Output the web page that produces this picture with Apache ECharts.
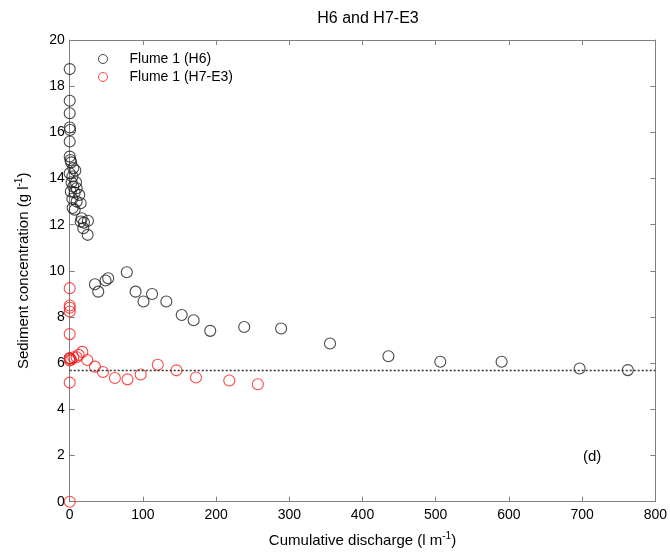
<!DOCTYPE html>
<html>
<head>
<meta charset="utf-8">
<script src="https://cdn.jsdelivr.net/npm/echarts@6/dist/echarts.min.js"></script>
<style>html,body{margin:0;padding:0;background:#fff}#c{width:670px;height:555px}</style>
</head>
<body>
<div id="c"></div>
<script>
const chartTitle = 'H6 and H7-E3';
const panelLabel = '(d)';
const seriesNames = ['Flume 1 (H6)', 'Flume 1 (H7-E3)'];
const xTicks = [0, 100, 200, 300, 400, 500, 600, 700, 800];
const yTicks = [0, 2, 4, 6, 8, 10, 12, 14, 16, 18, 20];
const refLevel = 5.7;

const h6X = [0, 0, 0, 0, 0.5, 0, 0, 1, 2, 4.9, 7.7, 0, 3.7, 2.5, 8.6, 4.9, 9.5, 1.5, 6.8, 13, 3.6, 9.5, 15, 4, 6.8, 16.3, 15, 19.5, 24.9, 18.6, 24.5, 0,
  34.5, 39, 49, 52.6, 78, 90, 100.8, 112.5, 132, 153, 169.3, 192, 238.4, 288.8, 355.6, 435.4, 506.3, 590, 696.6, 762.4];
const h6Y = [18.74, 17.37, 16.83, 16.21, 16.1, 15.6, 14.95, 14.8, 14.7, 14.45, 14.35, 14.23, 14.09, 13.84, 13.84, 13.65, 13.58, 13.44, 13.39, 13.29, 13.12, 13.0, 12.93, 12.72, 12.65, 12.28, 12.14, 12.09, 12.17, 11.85, 11.56, 6.2,
  9.42, 9.10, 9.58, 9.68, 9.94, 9.10, 8.67, 9.0, 8.67, 8.09, 7.86, 7.40, 7.57, 7.5, 6.85, 6.30, 6.06, 6.06, 5.77, 5.70];

const h7X = [0, 0, 0, 0, 0, 0, 0, 0, 0, 2, 5, 9.5, 12.3, 17.2, 24, 34.5, 45.4, 61.7, 79, 97, 120.3, 145.8, 172.5, 218, 257];
const h7Y = [9.25, 8.5, 8.4, 8.24, 7.26, 6.22, 6.12, 5.16, 0, 6.15, 6.26, 6.26, 6.36, 6.49, 6.14, 5.85, 5.62, 5.36, 5.30, 5.51, 5.93, 5.69, 5.38, 5.25, 5.09];

const zip = (xs, ys) => xs.map((x, i) => [x, ys[i]]);
const FONT = 'Liberation Sans';
const axisCol = '#7f7f7f';

const baseAxis = {
  axisLine: { show: true, onZero: false, lineStyle: { color: axisCol, width: 1 } },
  axisTick: { show: true, inside: true, length: 5, lineStyle: { color: axisCol } },
  splitLine: { show: false }
};

const chart = echarts.init(document.getElementById('c'), null, { renderer: 'canvas' });
chart.setOption({
  animation: false,
  backgroundColor: '#fff',
  title: {
    text: chartTitle, left: 363, top: 6, textAlign: 'center',
    textStyle: { fontFamily: FONT, fontSize: 16, fontWeight: 'normal', color: '#000' }
  },
  graphic: [{
    type: 'text', left: 583, top: 449,
    style: { text: panelLabel, fontFamily: FONT, fontSize: 15, fill: '#000' }
  }],
  legend: {
    orient: 'vertical', left: 98, top: 52, padding: 0, itemGap: 4, itemWidth: 9, itemHeight: 9,
    icon: 'circle',
    itemStyle: { borderWidth: 1 },
    textStyle: { fontFamily: FONT, fontSize: 14, lineHeight: 14, color: '#000', padding: [0, 0, 0, 17] },
    data: seriesNames
  },
  grid: { left: 69.7, right: 13.3, top: 40, bottom: 53.3 },
  xAxis: [
    Object.assign({}, baseAxis, {
      type: 'value', min: 0, max: 800, interval: 100, position: 'bottom',
      axisLabel: { fontFamily: FONT, fontSize: 14, color: '#000', margin: 6 },
      name: '{a|Cumulative discharge (l m}{s|-1}{a|)}', nameLocation: 'middle', nameGap: 30,
      nameTextStyle: { rich: { a: { fontFamily: FONT, fontSize: 15, color: '#000' }, s: { fontFamily: FONT, fontSize: 10, color: '#000', verticalAlign: 'top', padding: [0, 0, 8, 0] } } }
    }),
    Object.assign({}, baseAxis, {
      type: 'value', min: 0, max: 800, interval: 100, position: 'top',
      axisLabel: { show: false }
    })
  ],
  yAxis: [
    Object.assign({}, baseAxis, {
      type: 'value', min: 0, max: 20, interval: 2, position: 'left',
      axisLabel: { fontFamily: FONT, fontSize: 14, color: '#000', margin: 5 },
      name: '{a|Sediment concentration (g l}{s|-1}{a|)}', nameLocation: 'middle', nameGap: 37, nameRotate: 90,
      nameTextStyle: { rich: { a: { fontFamily: FONT, fontSize: 15, color: '#000' }, s: { fontFamily: FONT, fontSize: 10, color: '#000', verticalAlign: 'top', padding: [0, 0, 8, 0] } } }
    }),
    Object.assign({}, baseAxis, {
      type: 'value', min: 0, max: 20, interval: 2, position: 'right',
      axisLabel: { show: false }
    })
  ],
  series: [
    {
      name: seriesNames[0], type: 'scatter', data: zip(h6X, h6Y),
      symbol: 'circle', symbolSize: 11,
      itemStyle: { color: 'rgba(0,0,0,0)', borderColor: '#1a1a1a', borderWidth: 1.1 },
      z: 3,
      markLine: {
        silent: true, symbol: 'none', label: { show: false },
        lineStyle: { color: '#333', type: [2, 2], width: 1.3 },
        data: [{ yAxis: refLevel }]
      }
    },
    {
      name: seriesNames[1], type: 'scatter', data: zip(h7X, h7Y),
      symbol: 'circle', symbolSize: 11,
      itemStyle: { color: 'rgba(0,0,0,0)', borderColor: '#ff1a1a', borderWidth: 1.1 },
      z: 4
    }
  ]
});
</script>
</body>
</html>
